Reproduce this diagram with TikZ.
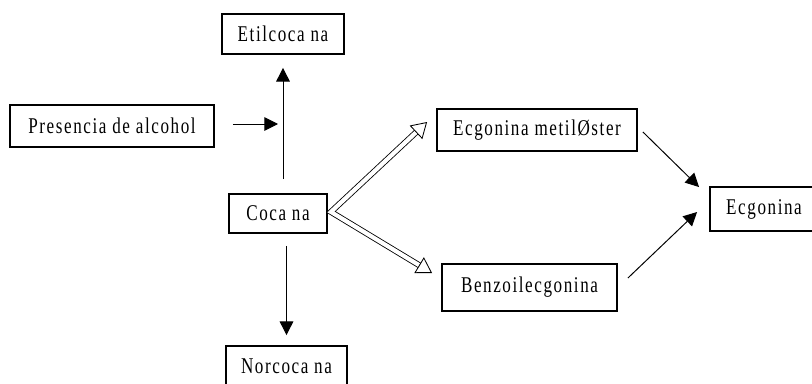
\documentclass[tikz,border=0pt]{standalone}
\usepackage{fontspec}
\setmainfont{Liberation Serif}[FakeStretch=0.76,LetterSpace=7]
\usepackage{tikz}
\usetikzlibrary{arrows.meta,positioning,calc}

\begin{document}
\begin{tikzpicture}[
  every node/.style={font=\fontsize{16}{19}\selectfont},
  box/.style={draw,line width=1.3pt,align=center,inner sep=0pt},
  arr/.style={line width=0.7pt,-{Triangle[length=0.34cm,width=0.34cm]}},
  dbl/.style={line width=0.6pt,double distance=3pt,line join=miter,
              {Triangle[open,length=0.38cm,width=0.46cm,line width=0.6pt]}-{Triangle[open,length=0.38cm,width=0.46cm,line width=0.6pt]}}
]
\useasboundingbox (0,0) rectangle (20.3,9.575);
% compounds
\node[box,minimum width=3.05cm,minimum height=1.0cm]   (etil)  at (7.075,8.725)  {Etilcoca na};
\node[box,minimum width=5.1cm,minimum height=1.05cm]   (pres)  at (2.8,6.425)    {Presencia de alcohol};
\node[box,minimum width=2.45cm,minimum height=0.975cm] (coca)  at (6.95,4.2375)  {Coca na};
\node[box,minimum width=5.0cm,minimum height=1.05cm]   (metil) at (13.425,6.325) {Ecgonina metilØster};
\node[box,minimum width=4.375cm,minimum height=1.175cm](benzo) at (13.2375,2.3875) {Benzoilecgonina};
\node[box,minimum width=2.7cm,minimum height=1.1cm]    (ecg)   at (19.1,4.35)    {Ecgonina};
\node[box,minimum width=3.025cm,minimum height=1.0cm]  (norc)  at (7.1625,0.425) {Norcoca na};
% end points of the connectors
\coordinate (up0) at ($(etil.south |- coca.north)+(0,0.35)$);
\coordinate (vx)  at ($(coca.east)+(0.075,0.04)$);
\coordinate (tm)  at ($(metil.west)+(-0.225,0.2)$);
\coordinate (tb)  at ($(benzo.west)+(-0.225,0.3625)$);
\coordinate (m0)  at ($(metil.east)+(0.125,-0.05)$);
\coordinate (m1)  at ($(ecg.north west)+(-0.25,-0.025)$);
\coordinate (b0)  at ($(benzo.east)+(0.25,0.2375)$);
\coordinate (b1)  at ($(ecg.west)+(-0.3,-0.075)$);
% connectors
\draw[arr,shorten >=0.325cm] (up0) -- (etil.south);
\draw[arr,shorten <=0.45cm,shorten >=0.125cm] ($(pres.east)+(0,0.05)$) -- ($(pres.east -| up0)+(0,0.05)$);
\draw[arr,shorten <=0.3cm,shorten >=0.25cm] (coca.south -| norc.north) -- (norc.north);
\draw[dbl] (tm) -- (vx) -- (tb);
\draw[arr] (m0) -- (m1);
\draw[arr] (b0) -- (b1);
\end{tikzpicture}
\end{document}
